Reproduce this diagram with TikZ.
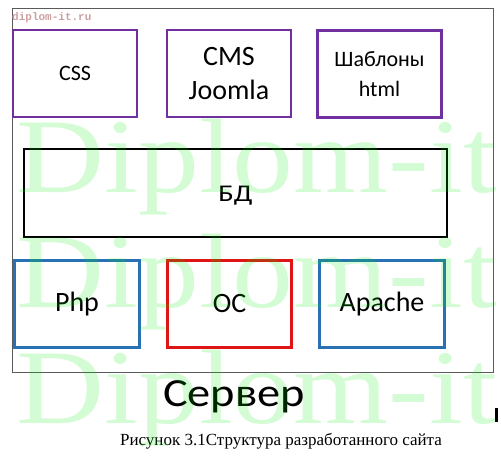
\documentclass[tikz,border=0pt]{standalone}
\usepackage{fontspec}
\setmainfont{Carlito}
\newfontfamily\captionserif{Liberation Serif}
\newfontfamily\markmono{Liberation Mono}
\usetikzlibrary{calc}
\usetikzlibrary{positioning}
\definecolor{tplPurple}{RGB}{112,48,160}
\definecolor{srvBlue}{RGB}{40,114,180}
\definecolor{osRed}{RGB}{224,20,20}
\definecolor{frameGray}{RGB}{90,90,90}
\definecolor{markGreen}{RGB}{0,235,0}
\definecolor{markPink}{RGB}{205,160,160}
\tikzstyle{partnode} = [draw, rectangle, minimum width=124pt, minimum height=87pt, align=center, inner sep=0pt]
\tikzstyle{colorTpl} = [draw=tplPurple, line width=2.5pt]
\tikzstyle{colorSrv} = [draw=srvBlue, line width=3pt]
\tikzstyle{colorOs} = [draw=osRed, line width=3pt]
\tikzstyle{colorDb} = [draw=black, line width=2pt]
\tikzstyle{bigmark} = [anchor=base west, inner sep=0pt, text=markGreen, text opacity=0.17, xscale=1.15, font=\captionserif\fontsize{106}{106}\selectfont]

\begin{document}
\begin{tikzpicture}[x=1pt,y=-1pt]
\useasboundingbox (0,0) rectangle (501,457);
\node[draw=frameGray, line width=0.8pt, rectangle, minimum width=481pt, minimum height=364pt, inner sep=0pt] (server) at (252.5,190) {};
\node[anchor=base west, inner sep=0pt, text=markPink, font=\markmono\bfseries\fontsize{11}{11}\selectfont] (site_mark) at (12,21) {diplom-it.ru};

% top row
\node[partnode, colorTpl, font=\fontsize{22}{29}\selectfont] (css) at (75,73.5) {CSS};
\node[partnode, colorTpl, font=\fontsize{28}{34}\selectfont] (cms) at ($(css)+(154,0)$) {CMS\\Joomla};
\node[partnode, colorTpl, font=\fontsize{22}{30}\selectfont] (tpl) at ($(cms)+(150.5,0.5)$) {Шаблоны\\html};

% database
\node[partnode, colorDb, minimum width=423pt, minimum height=88pt] (db) at (235.5,193) {};
\node[xscale=1.2, font=\fontsize{24}{28}\selectfont] (db_text) at ($(db)+(0,3)$) {БД};

% bottom row
\node[partnode, colorSrv, minimum width=125pt, font=\fontsize{28}{34}\selectfont] (php) at (77,304) {Php};
\node[partnode, colorOs, minimum width=124pt, font=\fontsize{28}{34}\selectfont] (os) at ($(php)+(152.5,0)$) {OC};
\node[partnode, colorSrv, minimum width=125pt, font=\fontsize{28}{34}\selectfont] (apache) at ($(os)+(152.5,0)$) {Apache};

\node[anchor=base, inner sep=0pt, xscale=1.16, font=\fontsize{40}{40}\selectfont] (server_label) at (234,406) {Сервер};
\node[anchor=base, inner sep=0pt, font=\captionserif\fontsize{17}{17}\selectfont] (caption) at (281,445) {Рисунок 3.1Структура разработанного сайта};

% watermark
\begin{scope}
\clip (0,0) rectangle (501,457);
\node[bigmark] (mark_a) at (16,193) {Diplom-it.};
\node[bigmark] (mark_b) at (16,308) {Diplom-it};
\node[bigmark] (mark_c) at (16,423) {Diplom-it};
\end{scope}
\fill (495,408) rectangle (498,422);
\end{tikzpicture}
\end{document}
